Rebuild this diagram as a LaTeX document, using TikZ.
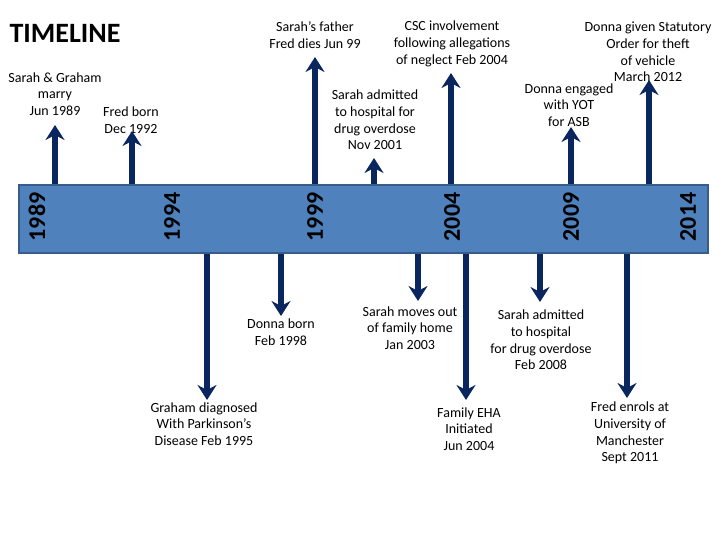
\documentclass[tikz,border=0pt]{standalone}
\usepackage{fontspec}
\setmainfont{Carlito}
\usetikzlibrary{arrows.meta}
\definecolor{barblue}{RGB}{79,129,189}
\definecolor{baredge}{RGB}{56,93,138}
\definecolor{arrownavy}{RGB}{10,38,94}
\begin{document}
\begin{tikzpicture}
    [
        x=1pt, y=-1pt,
        timebar/.style={rectangle, draw=baredge, fill=barblue, line width=2pt, minimum width=689pt, minimum height=68pt, inner sep=0pt, anchor=north west},
        year/.style={rotate=90, inner sep=0pt, font=\fontsize{24}{28}\selectfont\bfseries},
        event/.style={align=center, inner sep=0pt, font=\fontsize{14}{16.7}\selectfont},
        pointer/.style={draw=arrownavy, line width=5.5pt, -{Stealth[width=19pt, length=15pt, inset=5pt, fill=arrownavy]}},
    ]
    \useasboundingbox (0,0) rectangle (720,540);
    \node (title) at (65,33) [font=\fontsize{28}{32}\selectfont\bfseries] {TIMELINE};
    \node (bar) at (18,184) [timebar] {};
    \node (y1989) at (37,217) [year] {1989};
    \node (y1994) at (172,217) [year] {1994};
    \node (y1999) at (315,217) [year] {1999};
    \node (y2004) at (452,217) [year] {2004};
    \node (y2009) at (571,217) [year] {2009};
    \node (y2014) at (688,217) [year] {2014};
    % above the bar
    \node (marry) at (55,94) [event] {Sarah \& Graham\\marry\\Jun 1989};
    \node (fredborn) at (131,120) [event] {Fred born\\Dec 1992};
    \node (fatherdies) at (315,35) [event] {Sarah’s father\\Fred dies Jun 99};
    \node (overdose01) at (375,120) [event] {Sarah admitted\\to hospital for\\drug overdose\\Nov 2001};
    \node (csc) at (452,44) [event] {CSC involvement\\following allegations\\of neglect Feb 2004};
    \node (yot) at (569,105) [event] {Donna engaged\\with YOT\\for ASB};
    \node (statutory) at (648,52) [event] {Donna given Statutory\\Order for theft\\of vehicle\\March 2012};
    % below the bar
    \node (donnaborn) at (281,332) [event] {Donna born\\Feb 1998};
    \node (parkinsons) at (204,424) [event] {Graham diagnosed\\With Parkinson’s\\Disease Feb 1995};
    \node (movesout) at (410,328) [event] {Sarah moves out\\of family home\\Jan 2003};
    \node (eha) at (469,429) [event] {Family EHA\\Initiated\\Jun 2004};
    \node (overdose08) at (541,340) [event] {Sarah admitted\\to hospital\\for drug overdose\\Feb 2008};
    \node (university) at (630,433) [event] {Fred enrols at\\University of\\Manchester\\Sept 2011};
    % arrow tips
    \coordinate (tmarry) at (55,125);
    \coordinate (tfredborn) at (132,131);
    \coordinate (tfatherdies) at (315,57);
    \coordinate (toverdose01) at (374,158);
    \coordinate (tcsc) at (451,73);
    \coordinate (tyot) at (571,127);
    \coordinate (tstatutory) at (649,80);
    \coordinate (tdonnaborn) at (281,316);
    \coordinate (tparkinsons) at (207,400);
    \coordinate (tmovesout) at (418,301);
    \coordinate (teha) at (466,400);
    \coordinate (toverdose08) at (540,302);
    \coordinate (tuniversity) at (627,398);
    \foreach \t in {tmarry, tfredborn, tfatherdies, toverdose01, tcsc, tyot, tstatutory}
        \draw [pointer] (bar.north -| \t) -- (\t);
    \foreach \t in {tdonnaborn, tparkinsons, tmovesout, teha, toverdose08, tuniversity}
        \draw [pointer] (bar.south -| \t) -- (\t);
\end{tikzpicture}
\end{document}
